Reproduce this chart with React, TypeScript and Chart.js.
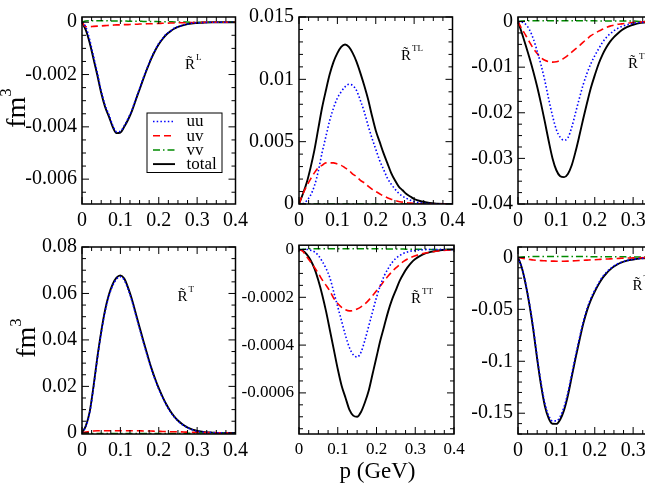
import React, { useEffect, useRef } from 'react';
import { Chart, registerables } from 'chart.js';

Chart.register(...registerables);

const FONT = "'Liberation Serif', 'Times New Roman', serif";
Chart.defaults.font.family = FONT;

// momentum grid (GeV)
const P = [0, 0.01, 0.02, 0.03, 0.04, 0.05, 0.06, 0.07, 0.08, 0.09, 0.10, 0.11, 0.12, 0.13, 0.14, 0.15, 0.16, 0.17, 0.18, 0.19, 0.20, 0.21, 0.22, 0.23, 0.24, 0.25, 0.26, 0.27, 0.28, 0.29, 0.30, 0.32, 0.34, 0.36, 0.38, 0.40];
const X_TICK_STEP = 0.1;

const SERIES_LABELS = ['uu', 'uv', 'vv', 'total'];

// R~L
const uuL = [0, -0.00018, -0.00067, -0.0013, -0.00194, -0.00262, -0.00316, -0.00353, -0.00394, -0.00419, -0.00417, -0.00396, -0.00368, -0.00336, -0.00294, -0.00254, -0.00212, -0.00174, -0.00138, -0.00108, -0.00081, -0.00062, -0.00045, -0.00034, -0.00023, -0.00017, -0.00012, -0.00008, -0.00005, -0.00003, -0.00002, -0.00001, 0, 0, 0, 0];
const uvL = [0, -0.00017, -0.00017, -0.00016, -0.00015, -0.00014, -0.00013, -0.00012, -0.00011, -0.0001, -0.0001, -0.00009, -0.00009, -0.00008, -0.00008, -0.00007, -0.00007, -0.00006, -0.00006, -0.00005, -0.00005, -0.00004, -0.00004, -0.00003, -0.00003, -0.00002, -0.00002, -0.00002, -0.00001, -0.00001, -0.00001, 0, 0, 0, 0, 0];
const vvL = [0, 0.00005, 0.00006, 0.00006, 0.00006, 0.00006, 0.00006, 0.00005, 0.00005, 0.00005, 0.00005, 0.00005, 0.00004, 0.00004, 0.00004, 0.00004, 0.00003, 0.00003, 0.00003, 0.00003, 0.00002, 0.00002, 0.00002, 0.00002, 0.00001, 0.00001, 0.00001, 0.00001, 0, 0, 0, 0, 0, 0, 0, 0];
const totL = [0, -0.0003, -0.00078, -0.0014, -0.00203, -0.0027, -0.00323, -0.0036, -0.0040, -0.00424, -0.00422, -0.0040, -0.00373, -0.0034, -0.00298, -0.00257, -0.00216, -0.00177, -0.00141, -0.0011, -0.00084, -0.00064, -0.00047, -0.00035, -0.00025, -0.00018, -0.00013, -0.00009, -0.00006, -0.00004, -0.00003, -0.00001, 0, 0, 0, 0];

// R~TL
const uuTL = [0, 0.00003, 0.00026, 0.0007, 0.00144, 0.0026, 0.0041, 0.0054, 0.0067, 0.0077, 0.0085, 0.0090, 0.0094, 0.0096, 0.0095, 0.0091, 0.0083, 0.0074, 0.0063, 0.0053, 0.0044, 0.0035, 0.0028, 0.0021, 0.0016, 0.0012, 0.00086, 0.00063, 0.00045, 0.00031, 0.0002, 0.00008, 0.00003, 0.00001, 0, 0];
const uvTL = [0, 0.0008, 0.00144, 0.002, 0.0025, 0.0029, 0.0031, 0.0033, 0.0033, 0.0033, 0.0032, 0.0031, 0.0029, 0.0027, 0.0024, 0.0022, 0.0019, 0.0017, 0.00144, 0.0012, 0.001, 0.00082, 0.00065, 0.00051, 0.00039, 0.00029, 0.0002, 0.00015, 0.0001, 0.00007, 0.00005, 0.00002, 0.00001, 0, 0, 0];
const vvTL = [0, 0, 0, 0, 0, 0, 0, 0, 0, 0, 0, 0, 0, 0, 0, 0, 0, 0, 0, 0, 0, 0, 0, 0, 0, 0, 0, 0, 0, 0, 0, 0, 0, 0, 0, 0];
const totTL = [0, 0.0008, 0.0017, 0.0029, 0.0043, 0.0060, 0.0077, 0.0091, 0.0104, 0.0114, 0.0121, 0.0126, 0.0128, 0.0126, 0.0121, 0.0114, 0.0105, 0.0095, 0.0084, 0.0071, 0.0059, 0.0050, 0.0041, 0.0033, 0.0025, 0.0019, 0.0014, 0.0011, 0.0008, 0.0006, 0.0004, 0.0002, 0.00008, 0.00003, 0.00001, 0];

// R~TL (right panel)
const uuC = [0, -0.0001, -0.0006, -0.0018, -0.0038, -0.0065, -0.0095, -0.0130, -0.0170, -0.0207, -0.0237, -0.0254, -0.0260, -0.0255, -0.0232, -0.0200, -0.0168, -0.0138, -0.0113, -0.0092, -0.0075, -0.0060, -0.0046, -0.0035, -0.0027, -0.0020, -0.0015, -0.0011, -0.0008, -0.0006, -0.0004, -0.0002, -0.0001, 0, 0, 0];
const uvC = [0, -0.0016, -0.0030, -0.0045, -0.0059, -0.0070, -0.0079, -0.0085, -0.0088, -0.0089, -0.0088, -0.0085, -0.0080, -0.0074, -0.0067, -0.0060, -0.0053, -0.0045, -0.0038, -0.0031, -0.0026, -0.0021, -0.0017, -0.0013, -0.0010, -0.0008, -0.0006, -0.0005, -0.0004, -0.0003, -0.0002, -0.0001, 0, 0, 0, 0];
const vvC = [0, 0.0001, 0.0002, 0.0002, 0.0002, 0.0002, 0.0002, 0.0002, 0.0002, 0.0002, 0.0002, 0.0002, 0.0002, 0.0002, 0.0002, 0.0002, 0.0002, 0.0002, 0.0002, 0.0002, 0.0002, 0.0001, 0.0001, 0.0001, 0.0001, 0.0001, 0.0001, 0.0001, 0.0001, 0.0001, 0.0001, 0, 0, 0, 0, 0];
const totC = [0, -0.0025, -0.0052, -0.0080, -0.0110, -0.0143, -0.0180, -0.0220, -0.0262, -0.0300, -0.0326, -0.0339, -0.0341, -0.0334, -0.0315, -0.0285, -0.0250, -0.0213, -0.0178, -0.0145, -0.0118, -0.0093, -0.0073, -0.0057, -0.0044, -0.0034, -0.0026, -0.0019, -0.0014, -0.0010, -0.0007, -0.0003, -0.0001, 0, 0, 0];

// R~T
const uuT = [0, 0.0028, 0.0086, 0.0195, 0.0319, 0.0429, 0.0521, 0.0588, 0.0634, 0.0662, 0.0672, 0.0658, 0.0619, 0.0569, 0.0509, 0.0449, 0.0390, 0.0333, 0.0278, 0.0231, 0.0188, 0.0152, 0.0119, 0.0091, 0.0069, 0.0051, 0.0037, 0.0027, 0.0018, 0.0012, 0.0007, 0.0003, 0.0001, 0, 0, 0];
const uvT = [0, 0.0003, 0.0006, 0.0008, 0.0009, 0.0009, 0.0009, 0.0009, 0.0009, 0.0009, 0.0009, 0.0009, 0.0009, 0.0009, 0.0009, 0.0009, 0.0008, 0.0008, 0.0008, 0.0007, 0.0007, 0.0006, 0.0006, 0.0005, 0.0005, 0.0004, 0.0004, 0.0003, 0.0003, 0.0002, 0.0002, 0.0001, 0.0001, 0, 0, 0];
const vvT = [0, -0.0001, -0.0002, -0.0003, -0.0003, -0.0003, -0.0003, -0.0003, -0.0003, -0.0003, -0.0003, -0.0003, -0.0003, -0.0003, -0.0003, -0.0003, -0.0003, -0.0003, -0.0003, -0.0003, -0.0003, -0.0003, -0.0003, -0.0003, -0.0003, -0.0003, -0.0002, -0.0002, -0.0002, -0.0001, -0.0001, -0.0001, 0, 0, 0, 0];
const totT = [0, 0.003, 0.009, 0.020, 0.0325, 0.0435, 0.0527, 0.0594, 0.0640, 0.0668, 0.0678, 0.0664, 0.0625, 0.0575, 0.0515, 0.0455, 0.0395, 0.0338, 0.0283, 0.0235, 0.0192, 0.0155, 0.0122, 0.0094, 0.0071, 0.0053, 0.0039, 0.0028, 0.0019, 0.0013, 0.0008, 0.0003, 0.0001, 0, 0, 0];

// R~TT
const uuTT = [0, 0, 0, -0.000003, -0.00001, -0.000025, -0.00005, -0.00008, -0.00012, -0.00018, -0.00024, -0.0003, -0.00036, -0.00041, -0.00044, -0.00045, -0.00043, -0.00038, -0.00032, -0.00026, -0.0002, -0.00015, -0.00011, -0.00008, -0.000055, -0.000037, -0.000025, -0.000016, -0.00001, -0.000006, -0.000004, -0.000001, 0, 0, 0, 0];
const uvTT = [0, -0.000008, -0.00003, -0.000052, -0.000075, -0.0001, -0.000127, -0.00015, -0.000175, -0.000205, -0.000226, -0.000242, -0.000252, -0.000257, -0.000255, -0.000249, -0.00024, -0.000228, -0.000212, -0.000193, -0.000173, -0.000152, -0.000131, -0.000111, -0.000093, -0.000077, -0.000063, -0.00005, -0.00004, -0.000032, -0.000026, -0.000017, -0.000011, -0.000006, -0.000003, -0.000001];
const vvTT = [0, 0.000001, 0.000002, 0.000003, 0.000003, 0.000003, 0.000003, 0.000003, 0.000003, 0.000003, 0.000003, 0.000003, 0.000003, 0.000003, 0.000003, 0.000003, 0.000003, 0.000003, 0.000003, 0.000003, 0.000003, 0.000003, 0.000003, 0.000002, 0.000002, 0.000002, 0.000002, 0.000002, 0.000001, 0.000001, 0.000001, 0.000001, 0, 0, 0, 0];
const totTT = [0, -0.000005, -0.00002, -0.000045, -0.00008, -0.00013, -0.00019, -0.00026, -0.00034, -0.00042, -0.0005, -0.00057, -0.00062, -0.00067, -0.000695, -0.0007, -0.00068, -0.00064, -0.00059, -0.00052, -0.00045, -0.00038, -0.00032, -0.00026, -0.00021, -0.00017, -0.00013, -0.0001, -0.000075, -0.000055, -0.00004, -0.00002, -0.00001, -0.000004, -0.000001, 0];

// R~T (right panel)
const uuF = [0, -0.0096, -0.0251, -0.0447, -0.0683, -0.0960, -0.1207, -0.1405, -0.1523, -0.1574, -0.1574, -0.1531, -0.1441, -0.1302, -0.1124, -0.0946, -0.0778, -0.0620, -0.0492, -0.0393, -0.0315, -0.0247, -0.0189, -0.0145, -0.0110, -0.0082, -0.0061, -0.0046, -0.0034, -0.0025, -0.0019, -0.0010, -0.0005, -0.0002, -0.0001, 0];
const uvF = [0, -0.0008, -0.0015, -0.0020, -0.0025, -0.0028, -0.0031, -0.0033, -0.0035, -0.0036, -0.0037, -0.0037, -0.0037, -0.0036, -0.0034, -0.0032, -0.0030, -0.0028, -0.0026, -0.0024, -0.0022, -0.0020, -0.0018, -0.0016, -0.0014, -0.0012, -0.0010, -0.0008, -0.0007, -0.0006, -0.0005, -0.0003, -0.0002, -0.0001, 0, 0];
const vvF = [0, 0.0004, 0.0006, 0.0007, 0.0008, 0.0008, 0.0008, 0.0008, 0.0008, 0.0008, 0.0008, 0.0008, 0.0008, 0.0008, 0.0008, 0.0008, 0.0008, 0.0008, 0.0008, 0.0007, 0.0007, 0.0007, 0.0007, 0.0006, 0.0006, 0.0006, 0.0005, 0.0005, 0.0005, 0.0004, 0.0004, 0.0003, 0.0002, 0.0001, 0.0001, 0];
const totF = [0, -0.010, -0.026, -0.046, -0.070, -0.098, -0.123, -0.143, -0.155, -0.1602, -0.1603, -0.156, -0.147, -0.133, -0.115, -0.097, -0.080, -0.064, -0.051, -0.041, -0.033, -0.026, -0.020, -0.0155, -0.0118, -0.0088, -0.0066, -0.0049, -0.0036, -0.0027, -0.0020, -0.0010, -0.0005, -0.0002, -0.0001, 0];

// ---------- styles & layout ----------
const LINE_STYLES = [
  { color: '#0000ff', dash: [1.5, 2.2], width: 1.6 },
  { color: '#ff0000', dash: [7, 4], width: 1.6 },
  { color: '#008b00', dash: [7, 3, 1.5, 3], width: 1.5 },
  { color: '#000000', dash: [] as number[], width: 1.9 },
];

const Y_W = 70; // y-axis box width
const X_H = 30; // x-axis box height
const PAD_T = 14;
const PAD_R = 16;
const AREA_W = 155;
const AREA_H = 190;

type PanelCfg = {
  series: number[][];
  yMin: number; yMax: number; major: number; minor: number;
  sup: string; dx: number; dy: number;
  left: number; top: number; tickSize: number; legend?: boolean;
};

const PANELS: PanelCfg[] = [
  { series: [uuL, uvL, vvL, totL], yMin: -0.00695, yMax: 0.0002, major: 0.002, minor: 0.0005, sup: 'L', dx: 108, dy: 52, left: 82, top: 14, tickSize: 20, legend: true },
  { series: [uuTL, uvTL, vvTL, totTL], yMin: 0, yMax: 0.015, major: 0.005, minor: 0.001, sup: 'TL', dx: 107, dy: 43, left: 299, top: 14, tickSize: 20 },
  { series: [uuC, uvC, vvC, totC], yMin: -0.04, yMax: 0.001, major: 0.01, minor: 0.0025, sup: 'TL', dx: 115, dy: 51, left: 518, top: 14, tickSize: 20 },
  { series: [uuT, uvT, vvT, totT], yMin: -0.0005, yMax: 0.08, major: 0.02, minor: 0.005, sup: 'T', dx: 100.5, dy: 54, left: 82, top: 244, tickSize: 20 },
  { series: [uuTT, uvTT, vvTT, totTT], yMin: -0.000772, yMax: 0.000018, major: 0.0002, minor: 0.00005, sup: 'TT', dx: 117, dy: 58, left: 299, top: 244, tickSize: 17 },
  { series: [uuF, uvF, vvF, totF], yMin: -0.17, yMax: 0.01, major: 0.05, minor: 0.01, sup: 'T', dx: 119.5, dy: 43, left: 518, top: 244, tickSize: 20 },
];

const fmt = (v: number | string) => String(Number(Number(v).toFixed(7)));

// frame + inward major/minor ticks on all four sides
const framePlugin = {
  id: 'frameTicks',
  afterDraw(chart: any, _args: any, opts: any) {
    const { ctx, chartArea: a, scales } = chart;
    ctx.save();
    ctx.strokeStyle = '#000';
    ctx.lineWidth = 1;
    const axis = (scale: any, major: number, minor: number, horizontal: boolean) => {
      const s = Math.ceil(scale.min / minor - 1e-6);
      const e = Math.floor(scale.max / minor + 1e-6);
      for (let k = s; k <= e; k++) {
        const v = k * minor;
        const r = v / major;
        const len = Math.abs(r - Math.round(r)) < 1e-6 ? 7 : 4;
        const px = scale.getPixelForValue(v);
        ctx.beginPath();
        if (horizontal) {
          ctx.moveTo(px, a.bottom); ctx.lineTo(px, a.bottom - len);
          ctx.moveTo(px, a.top); ctx.lineTo(px, a.top + len);
        } else {
          ctx.moveTo(a.left, px); ctx.lineTo(a.left + len, px);
          ctx.moveTo(a.right, px); ctx.lineTo(a.right - len, px);
        }
        ctx.stroke();
      }
    };
    axis(scales.x, opts.xMajor, opts.xMinor, true);
    axis(scales.y, opts.yMajor, opts.yMinor, false);
    ctx.lineWidth = 1.5;
    ctx.strokeRect(a.left, a.top, a.right - a.left, a.bottom - a.top);
    ctx.restore();
  },
};

// R~ annotation
const labelPlugin = {
  id: 'rlabel',
  afterDraw(chart: any, _args: any, opts: any) {
    const { ctx, chartArea: a } = chart;
    ctx.save();
    ctx.fillStyle = '#000';
    ctx.font = `15px ${FONT}`;
    ctx.textBaseline = 'alphabetic';
    ctx.textAlign = 'center';
    const x = a.left + opts.dx;
    const y = a.top + opts.dy;
    ctx.fillText('R\u0303', x, y);
    const w = ctx.measureText('R').width;
    ctx.font = `9px ${FONT}`;
    ctx.textAlign = 'left';
    ctx.fillText(opts.sup, x + w / 2 + 1, y - 9);
    ctx.restore();
  },
};

// series key (legend) box
const keyPlugin = {
  id: 'seriesKey',
  afterDraw(chart: any) {
    const { ctx, chartArea: a } = chart;
    const bx = a.left + 65;
    const by = a.top + 96;
    const bw = 75;
    const bh = 59.5;
    ctx.save();
    ctx.fillStyle = '#fff';
    ctx.fillRect(bx, by, bw, bh);
    ctx.strokeStyle = '#000';
    ctx.lineWidth = 1;
    ctx.strokeRect(bx, by, bw, bh);
    chart.data.datasets.forEach((ds: any, i: number) => {
      const y = by + 8.5 + i * 14.2;
      ctx.setLineDash(ds.borderDash || []);
      ctx.strokeStyle = ds.borderColor;
      ctx.lineWidth = ds.borderWidth;
      ctx.beginPath();
      ctx.moveTo(bx + 6, y);
      ctx.lineTo(bx + 28, y);
      ctx.stroke();
      ctx.setLineDash([]);
      ctx.fillStyle = '#000';
      ctx.font = `17px ${FONT}`;
      ctx.textAlign = 'left';
      ctx.textBaseline = 'middle';
      ctx.fillText(ds.label, bx + 39.5, y + 0.5);
    });
    ctx.restore();
  },
};

function Panel({ cfg }: { cfg: PanelCfg }) {
  const ref = useRef<HTMLCanvasElement>(null);
  useEffect(() => {
    if (!ref.current) return;
    const datasets = cfg.series.map((arr, i) => ({
      label: SERIES_LABELS[i],
      data: P.map((p, j) => ({ x: p, y: arr[j] })),
      borderColor: LINE_STYLES[i].color,
      borderDash: LINE_STYLES[i].dash,
      borderWidth: LINE_STYLES[i].width,
      pointRadius: 0,
      fill: false,
      cubicInterpolationMode: 'monotone' as const,
    }));
    const tickFont = { family: FONT, size: cfg.tickSize };
    const chart = new Chart(ref.current, {
      type: 'line',
      data: { datasets },
      options: {
        responsive: false,
        animation: false,
        events: [],
        layout: { padding: { top: PAD_T, right: PAD_R, left: 0, bottom: 0 } },
        plugins: {
          legend: { display: false },
          tooltip: { enabled: false },
          frameTicks: { xMajor: X_TICK_STEP, xMinor: X_TICK_STEP / 4, yMajor: cfg.major, yMinor: cfg.minor },
          rlabel: { dx: cfg.dx, dy: cfg.dy, sup: cfg.sup },
        } as any,
        scales: {
          x: {
            type: 'linear',
            min: 0,
            max: 0.4,
            afterFit: (s: any) => { s.height = X_H; },
            ticks: { stepSize: X_TICK_STEP, callback: fmt, font: tickFont, color: '#000', padding: 5, maxRotation: 0, autoSkip: false, includeBounds: false },
            grid: { display: false, drawTicks: false },
            border: { display: false },
          },
          y: {
            type: 'linear',
            min: cfg.yMin,
            max: cfg.yMax,
            afterFit: (s: any) => { s.width = Y_W; },
            ticks: { stepSize: cfg.major, callback: fmt, font: tickFont, color: '#000', padding: 5, autoSkip: false, includeBounds: false },
            grid: { display: false, drawTicks: false },
            border: { display: false },
          },
        },
      } as any,
      plugins: cfg.legend ? [framePlugin, labelPlugin, keyPlugin] : [framePlugin, labelPlugin],
    });
    return () => chart.destroy();
  }, [cfg]);
  return (
    <canvas
      ref={ref}
      width={Y_W + AREA_W + PAD_R}
      height={PAD_T + AREA_H + X_H}
      style={{ position: 'absolute', left: cfg.left - Y_W, top: cfg.top - PAD_T }}
    />
  );
}

function YTitle({ x, y }: { x: number; y: number }) {
  return (
    <div
      style={{
        position: 'absolute', left: x, top: y,
        transform: 'translate(-50%, -50%) rotate(-90deg)',
        fontFamily: FONT, fontSize: 28, lineHeight: 1, whiteSpace: 'nowrap', color: '#000',
      }}
    >
      fm<span style={{ position: 'relative', top: -14, fontSize: 17 }}>3</span>
    </div>
  );
}

export default function App() {
  return (
    <div style={{ position: 'fixed', left: 0, top: 0, width: 645, height: 498, overflow: 'hidden', background: '#fff' }}>
      {PANELS.map((cfg, i) => <Panel key={i} cfg={cfg} />)}
      <YTitle x={15.5} y={108} />
      <YTitle x={25.5} y={338} />
      <div
        style={{
          position: 'absolute', left: 377.5, top: 470,
          transform: 'translate(-50%, -50%)',
          fontFamily: FONT, fontSize: 23, lineHeight: 1, whiteSpace: 'nowrap', color: '#000',
        }}
      >
        p (GeV)
      </div>
    </div>
  );
}
